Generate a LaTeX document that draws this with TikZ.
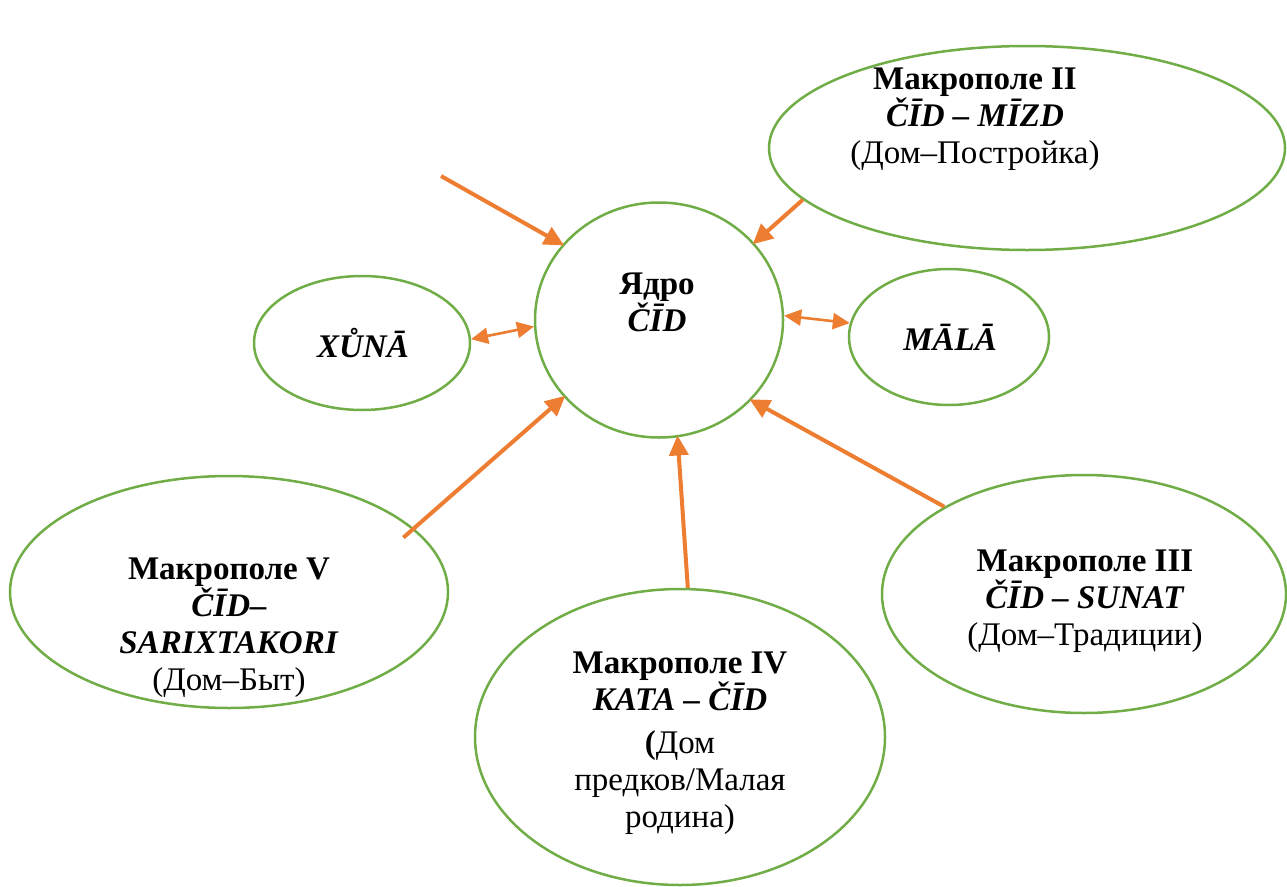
\documentclass[tikz,border=0pt]{standalone}
\usepackage{fontspec}
\setmainfont{Liberation Serif}
\usetikzlibrary{shapes.geometric,arrows.meta}
\definecolor{fieldgreen}{HTML}{70AD47}
\definecolor{arroworange}{HTML}{ED7D31}
\tikzset{
  field/.style={draw=fieldgreen, line width=2.5pt, shape=ellipse, inner sep=0pt},
  lbl/.style={align=center, font=\fontsize{33}{37}\selectfont, inner sep=0pt},
  onearrow/.style={draw=arroworange, line width=4pt, -{Triangle[length=20pt,width=19pt]}, shorten >=-2pt},
  twoarrow/.style={draw=arroworange, line width=2.6pt, {Triangle[length=17pt,width=16pt]}-{Triangle[length=17pt,width=16pt]}},
}
\begin{document}
\begin{tikzpicture}[x=1pt,y=-1pt]
\useasboundingbox (0,0) rectangle (1287,886);
% ellipses
\node[field, minimum width=248pt, minimum height=235pt] (core) at (659,320) {};
\node[field, minimum width=516pt, minimum height=204pt] (m2) at (1027,148) {};
\node[field, minimum width=216pt, minimum height=134pt] (xuna) at (362,343) {};
\node[field, minimum width=200pt, minimum height=136pt] (mala) at (949,337) {};
\node[field, minimum width=438pt, minimum height=232pt] (m5) at (229,592) {};
\node[field, minimum width=410pt, minimum height=296pt] (m4) at (680,737) {};
\node[field, minimum width=404pt, minimum height=238pt] (m3) at (1084,594) {};
% texts
\node[lbl] (tcore) at (657,302) {\textbf{Ядро}\\\textbf{\textit{ČĪD}}};
\node[lbl] (t2) at (975,119) {\textbf{Макрополе II}\\\textbf{\textit{ČĪD – MĪZD}}\\(Дом–Постройка)};
\node[lbl] (txuna) at (363,343) {\textbf{\textit{XŮNĀ}}};
\node[lbl] (tmala) at (950,337) {\textbf{\textit{MĀLĀ}}};
\node[lbl] (t5) at (229,628) {\textbf{Макрополе V}\\\textbf{\textit{ČĪD–}}\\\textbf{\textit{SARIXTAKORI}}\\(Дом–Быт)};
\node[lbl] (t4) at (680,743) {\textbf{Макрополе IV}\\\textbf{\textit{KATA – ČĪD}}\\[6pt]\textbf{(}Дом\\предков/Малая\\родина)};
\node[lbl] (t3) at (1085,601) {\textbf{Макрополе III}\\\textbf{\textit{ČĪD – SUNAT}}\\(Дом–Традиции)};
% connectors
\coordinate (free) at (441,176);
\draw[onearrow] (free) -- (core.142);
\draw[onearrow] (m2.193) -- (core.39);
\draw[twoarrow] (xuna.2) -- (core.183);
\draw[twoarrow] (core.2) -- (mala.172);
\draw[onearrow, shorten <=-14pt] (m5.19) -- (core.219);
\draw[onearrow] (m4.87) -- (core.279);
\draw[onearrow] (m3.148) -- (core.319);
\end{tikzpicture}
\end{document}
